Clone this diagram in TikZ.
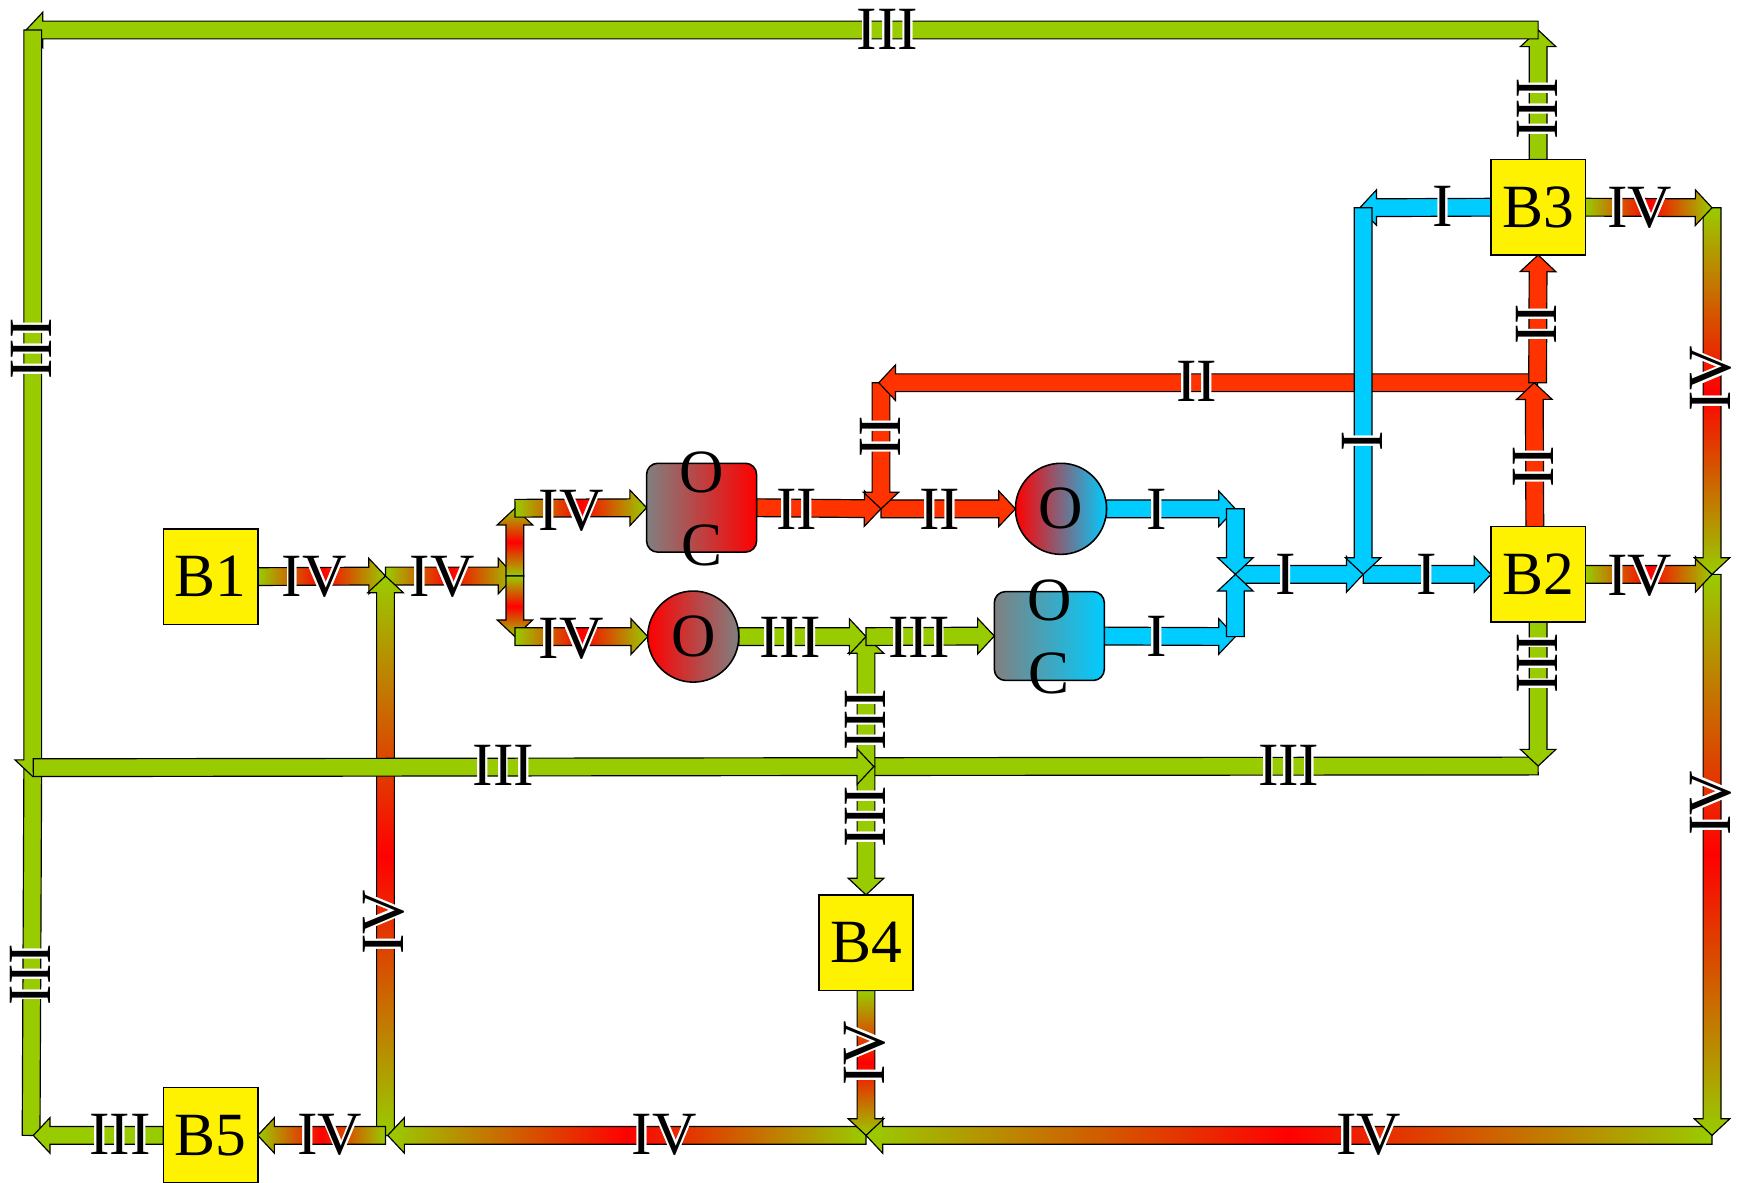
\documentclass[tikz,border=0pt]{standalone}
\usepackage{fontspec}
\setmainfont{Liberation Serif}
\usepackage{contour}
\contourlength{1pt}
\usetikzlibrary{calc}
\definecolor{cIII}{HTML}{99CC00}
\definecolor{cII}{HTML}{FF3300}
\definecolor{cI}{HTML}{00CCFF}
\definecolor{cIV}{HTML}{FF0000}
\definecolor{cgray}{HTML}{808080}
\newcommand{\faSW}{0.16cm}
\newcommand{\faHW}{0.32cm}
\newcommand{\faHL}{0.3cm}
\newcommand{\bigfnt}{\fontsize{31.5}{36}\selectfont}
% fat arrow from #2 to #3 with head at #3
\newcommand{\farrow}[3]{%
  \path (#2) coordinate (fa-a) (#3) coordinate (fa-b);
  \path ($(fa-b)!\faHL!(fa-a)$) coordinate (fa-q);
  \path[#1] ($(fa-a)!\faSW!90:(fa-b)$) -- ($(fa-q)!\faSW!90:(fa-b)$) -- ($(fa-q)!\faHW!90:(fa-b)$) -- (fa-b) -- ($(fa-q)!\faHW!-90:(fa-b)$) -- ($(fa-q)!\faSW!-90:(fa-b)$) -- ($(fa-a)!\faSW!-90:(fa-b)$) -- cycle;}
% fat bar without head
\newcommand{\fbar}[3]{%
  \path (#2) coordinate (fa-a) (#3) coordinate (fa-b);
  \path[#1] ($(fa-a)!\faSW!90:(fa-b)$) -- ($(fa-b)!\faSW!-90:(fa-a)$) -- ($(fa-b)!\faSW!90:(fa-a)$) -- ($(fa-a)!\faSW!-90:(fa-b)$) -- cycle;}
\newcommand{\lbl}[1]{\contour{white}{#1}}
\pgfdeclarelayer{bg}
\pgfsetlayers{bg,main}
\tikzset{
  edgeline/.style={draw=black, line width=0.6pt, line join=miter},
  pIII/.style={edgeline, fill=cIII},
  pII/.style={edgeline, fill=cII},
  pI/.style={edgeline, fill=cI},
  pIVh/.style={edgeline, left color=cIII, right color=cIII, middle color=cIV},
  pIVv/.style={edgeline, top color=cIII, bottom color=cIII, middle color=cIV},
  blk/.style={draw=black, line width=0.8pt, fill=yellow, minimum width=1.7cm, minimum height=1.72cm, inner sep=0pt, outer sep=0pt, font=\bigfnt},
  ocbox/.style={draw=black, line width=0.8pt, rounded corners=0.2cm, minimum width=1.98cm, minimum height=1.6cm, inner sep=0pt, outer sep=0pt},
  ocirc/.style={circle, draw=black, line width=0.8pt, minimum size=1.64cm, inner sep=0pt, outer sep=0pt, font=\bigfnt},
  lab/.style={inner sep=0pt, font=\bigfnt},
  vlab/.style={lab, rotate=90}
}
\begin{document}
\begin{tikzpicture}[x=0.02cm, y=-0.02cm]
\useasboundingbox (0,0) rectangle (1568,1064);
% junctions
\coordinate (tl) at (29.5,27);
\coordinate (tr) at (1384.5,27);
\coordinate (jL) at (29.5,691);
\coordinate (jBL) at (28,1022);
\coordinate (jC) at (779.5,690);
\coordinate (jR) at (1384.5,689.5);
\coordinate (jM) at (779.5,573);
\coordinate (jR1) at (793,458);
\coordinate (jR2) at (793,344.5);
\coordinate (jR3) at (1384,344.5);
\coordinate (jc1) at (1112,458);
\coordinate (jc2) at (1112,573);
\coordinate (jc3) at (1112,517);
\coordinate (jc4) at (1227,517);
\coordinate (jc5) at (1227,187);
\coordinate (jv1) at (347,518.5);
\coordinate (jv2) at (463.5,518.5);
\coordinate (jv3) at (463.5,457.5);
\coordinate (jv4) at (463.5,573);
\coordinate (jv5) at (347,1022);
\coordinate (jv6) at (779.5,1022);
\coordinate (jv7) at (1541,1022);
\coordinate (jv8) at (1541,517);
\coordinate (jv9) at (1541,187);
% blocks
\node[blk] (B1) at (189.5,519) {B1};
\node[blk] (B2) at (1384.5,517) {B2};
\node[blk] (B3) at (1384.5,186.5) {B3};
\node[blk] (B4) at (779.5,848.5) {B4};
\node[blk] (B5) at (189.5,1022) {B5};
% O / OC units
\node[ocbox, left color=cgray, right color=cIV] (OC1) at (631.5,457) {};
\node[ocbox, left color=cgray, right color=cI] (OC2) at (944.5,572.5) {};
\node[ocirc, left color=cIV, right color=cgray] (O1) at (624,573) {O};
\node[ocirc, left color=cIV, right color=cI] (O2) at (955,458) {O};
\node[lab] (OC1o) at ($(OC1)+(0,-32)$) {O};
\node[lab] (OC1c) at ($(OC1)+(0,34)$) {C};
\node[lab] (OC2o) at ($(OC2)+(0,-32)$) {O};
\node[lab] (OC2c) at ($(OC2)+(0,34)$) {C};

\begin{pgfonlayer}{bg}
\fill[white] (0,0) rectangle (1568,1064);
% IV
\farrow{pIVh}{B1.east}{jv1}
\farrow{pIVh}{jv1}{jv2}
\farrow{pIVv}{jv2}{jv3}
\farrow{pIVv}{jv2}{jv4}
\farrow{pIVh}{jv3}{OC1.west}
\farrow{pIVh}{jv4}{O1.west}
\farrow{pIVv}{jv5}{jv1}
\farrow{pIVh}{jv5}{B5.east}
\farrow{pIVh}{jv6}{$(jv5)+(2,0)$}
\farrow{pIVh}{jv7}{jv6}
\farrow{pIVv}{B4.south}{jv6}
\farrow{pIVv}{jv8}{jv7}
\farrow{pIVh}{B2.east}{jv8}
\farrow{pIVv}{jv9}{jv8}
\farrow{pIVh}{B3.east}{jv9}
% III
\farrow{pIII}{B3.north}{tr}
\farrow{pIII}{tr}{$(tl)+(-6,0)$}
\fbar{pIII}{jBL}{jL}
\farrow{pIII}{tl}{$(jL)+(0,8)$}
\farrow{pIII}{B5.west}{$(jBL)+(2,0)$}
\fbar{pIII}{jR}{$(jC)+(7,0)$}
\farrow{pIII}{B2.south}{jR}
\farrow{pIII}{jC}{jM}
\farrow{pIII}{jC}{B4.north}
\farrow{pIII}{$(jL)+(0.5,0)$}{$(jC)+(7,0)$}
\farrow{pIII}{O1.east}{jM}
\farrow{pIII}{jM}{OC2.west}
% II
\farrow{pII}{OC1.east}{jR1}
\farrow{pII}{jR1}{O2.west}
\farrow{pII}{jR2}{jR1}
\farrow{pII}{jR3}{$(jR2)+(-2,0)$}
\farrow{pII}{$(B2.north)+(-3,0)$}{$(jR3)+(-3,0)$}
\farrow{pII}{jR3}{B3.south}
% I
\farrow{pI}{O2.east}{jc1}
\farrow{pI}{OC2.east}{jc2}
\farrow{pI}{jc3}{jc4}
\farrow{pI}{jc4}{B2.west}
\farrow{pI}{jc1}{jc3}
\farrow{pI}{jc2}{jc3}
\farrow{pI}{B3.west}{$(jc5)+(-3,0)$}
\farrow{pI}{jc5}{jc4}
\end{pgfonlayer}

% labels: horizontal
\node[lab] (l1) at (799,27) {\lbl{III}};
\node[lab] (l2) at (453,690) {\lbl{III}};
\node[lab] (l3) at (1160,690) {\lbl{III}};
\node[lab] (l4) at (711,575) {\lbl{III}};
\node[lab] (l5) at (827,575) {\lbl{III}};
\node[lab] (l6) at (108,1022) {\lbl{III}};
\node[lab] (l7) at (717,459) {\lbl{II}};
\node[lab] (l8) at (846,459) {\lbl{II}};
\node[lab] (l9) at (1077,344) {\lbl{II}};
\node[lab] (l10) at (1041,459) {\lbl{I}};
\node[lab] (l11) at (1041,574) {\lbl{I}};
\node[lab] (l12) at (1157,518) {\lbl{I}};
\node[lab] (l13) at (1284,518) {\lbl{I}};
\node[lab] (l14) at (1299,187) {\lbl{I}};
\node[lab] (l15) at (283,520) {\lbl{IV}};
\node[lab] (l16) at (398,520) {\lbl{IV}};
\node[lab] (l17) at (514,461) {\lbl{IV}};
\node[lab] (l18) at (514,576) {\lbl{IV}};
\node[lab] (l19) at (1476,188) {\lbl{IV}};
\node[lab] (l20) at (1476,519) {\lbl{IV}};
\node[lab] (l21) at (1232,1022) {\lbl{IV}};
\node[lab] (l22) at (598,1022) {\lbl{IV}};
\node[lab] (l23) at (297,1022) {\lbl{IV}};
% labels: vertical
\node[vlab] (v1) at (1384.5,98) {\lbl{III}};
\node[vlab] (v2) at (29.5,314) {\lbl{III}};
\node[vlab] (v3) at (28,877) {\lbl{III}};
\node[vlab] (v4) at (1384.5,597) {\lbl{III}};
\node[vlab] (v5) at (779.5,648) {\lbl{III}};
\node[vlab] (v6) at (779.5,735) {\lbl{III}};
\node[vlab] (v7) at (793,393) {\lbl{II}};
\node[vlab] (v8) at (1381.5,420) {\lbl{II}};
\node[vlab] (v9) at (1384,292) {\lbl{II}};
\node[vlab] (v10) at (1227,397) {\lbl{I}};
\node[vlab] (v11) at (1541,341) {\lbl{IV}};
\node[vlab] (v12) at (1541,723) {\lbl{IV}};
\node[vlab] (v13) at (346,830) {\lbl{IV}};
\node[vlab] (v14) at (779.5,948) {\lbl{IV}};
\end{tikzpicture}
\end{document}
